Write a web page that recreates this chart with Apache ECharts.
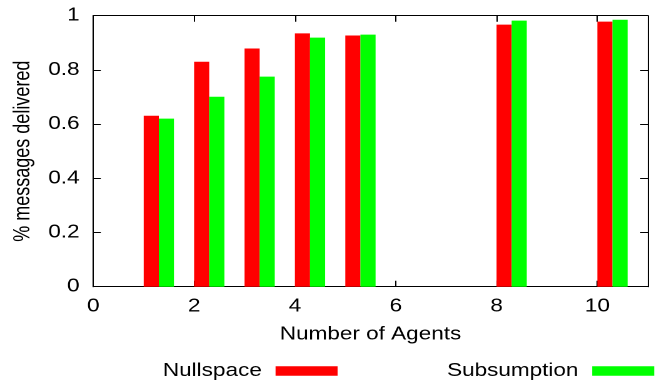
<!DOCTYPE html>
<html>
<head>
<meta charset="utf-8">
<script src="https://cdn.jsdelivr.net/npm/echarts@6/dist/echarts.min.js"></script>
<style>
  html, body { margin: 0; padding: 0; background: #fff; overflow: hidden; }
  /* chart is laid out narrow and widened horizontally to the page width */
  #chart { width: 527px; height: 381px; transform: scaleX(1.2505); transform-origin: 0 0; }
</style>
</head>
<body>
<div id="chart"></div>
<script>
// Number of agents per run
const agents = [1, 2, 3, 4, 5, 8, 10];
// Fraction of messages delivered
const nullspace   = [0.631, 0.830, 0.879, 0.935, 0.927, 0.967, 0.978];
const subsumption = [0.620, 0.701, 0.775, 0.919, 0.930, 0.982, 0.985];
const seriesNames = ['Nullspace', 'Subsumption'];
const xTickLabels = [0, 2, 4, 6, 8, 10];
const yTickLabels = [0, 0.2, 0.4, 0.6, 0.8, 1];

const BOX = 0.3;          // box width in axis units
const FONT = 'Liberation Sans, Arial, sans-serif';
const FS = 18;

function boxRenderer(offset) {
  return function (params, api) {
    const x = api.value(0), y = api.value(1);
    const p0 = api.coord([x + offset, y]);
    const p1 = api.coord([x + offset + BOX, 0]);
    return {
      type: 'rect',
      shape: { x: p0[0], y: p0[1], width: p1[0] - p0[0], height: p1[1] - p0[1] },
      style: { fill: api.visual('color') }
    };
  };
}

const frameLine = { show: true, onZero: false, lineStyle: { color: '#000', width: 1 } };
const inTick = { show: true, inside: true, length: 6, lineStyle: { color: '#000', width: 1 } };

const xAxisBase = {
  type: 'value', min: 0, max: 11, interval: 2,
  axisLine: frameLine, axisTick: inTick, splitLine: { show: false }
};
const yAxisBase = {
  type: 'value', min: 0, max: 1, interval: 0.2,
  axisLine: frameLine, axisTick: inTick, splitLine: { show: false }
};

const legendCommon = {
  orient: 'horizontal', align: 'right', padding: 0,
  icon: 'rect', itemWidth: 49.6, itemHeight: 9.5, top: 362,
  textStyle: { fontFamily: FONT, fontSize: FS, color: '#000', padding: [0, 6, 0, 0] }
};

const chart = echarts.init(document.getElementById('chart'), null, { renderer: 'canvas', devicePixelRatio: 2 });
chart.setOption({
  animation: false,
  backgroundColor: '#fff',
  grid: { left: 74.6, right: 9, top: 15.7, bottom: 94.3 },
  legend: [
    Object.assign({}, legendCommon, { data: [seriesNames[0]], left: 130.3 }),
    Object.assign({}, legendCommon, { data: [seriesNames[1]], left: 357.5 })
  ],
  xAxis: [
    Object.assign({}, xAxisBase, {
      position: 'bottom',
      name: 'Number of Agents', nameLocation: 'middle', nameGap: 39,
      nameTextStyle: { fontFamily: FONT, fontSize: FS, color: '#000' },
      axisLabel: {
        fontFamily: FONT, fontSize: FS, color: '#000', margin: 11,
        showMaxLabel: false,
        formatter: v => (xTickLabels.indexOf(v) >= 0 ? String(v) : '')
      }
    }),
    Object.assign({}, xAxisBase, { position: 'top', axisLabel: { show: false } })
  ],
  yAxis: [
    Object.assign({}, yAxisBase, {
      position: 'left',
      name: '% messages delivered', nameLocation: 'middle', nameGap: 47, nameRotate: 90,
      nameTextStyle: { fontFamily: FONT, fontSize: FS, color: '#000' },
      axisLabel: {
        fontFamily: FONT, fontSize: FS, color: '#000', margin: 11,
        formatter: v => {
          const t = yTickLabels.find(k => Math.abs(k - v) < 1e-9);
          return t === undefined ? '' : String(t);
        }
      }
    }),
    Object.assign({}, yAxisBase, { position: 'right', axisLabel: { show: false } })
  ],
  series: [
    {
      name: seriesNames[0], type: 'custom', xAxisIndex: 0, yAxisIndex: 0,
      itemStyle: { color: '#ff0000' },
      encode: { x: 0, y: 1 },
      renderItem: boxRenderer(0),
      data: agents.map((a, i) => [a, nullspace[i]])
    },
    {
      name: seriesNames[1], type: 'custom', xAxisIndex: 0, yAxisIndex: 0,
      itemStyle: { color: '#00ff00' },
      encode: { x: 0, y: 1 },
      renderItem: boxRenderer(BOX),
      data: agents.map((a, i) => [a, subsumption[i]])
    }
  ]
});
</script>
</body>
</html>
